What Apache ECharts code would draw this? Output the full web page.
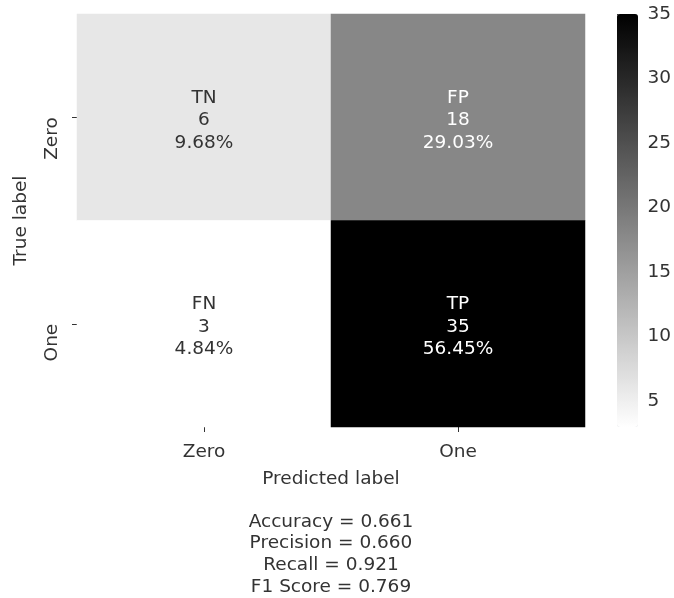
<!DOCTYPE html>
<html>
<head>
<meta charset="utf-8">
<script src="https://cdn.jsdelivr.net/npm/echarts@6/dist/echarts.min.js"></script>
<style>
  html, body { margin: 0; padding: 0; background: #ffffff; }
  #chart { width: 674px; height: 598px; }
</style>
</head>
<body>
<div id="chart"></div>
<script>
// Confusion matrix data
const predictedLabels = ['Zero', 'One'];
const trueLabels = ['Zero', 'One'];
const cellNames = [['TN', 'FP'], ['FN', 'TP']];
const cellCounts = [[6, 18], [3, 35]];
const cellPercents = [['9.68%', '29.03%'], ['4.84%', '56.45%']];
const colorbarTicks = [5, 10, 15, 20, 25, 30, 35];
const colorMin = 3;
const colorMax = 35;
const metricLines = [
  'Accuracy = 0.661',
  'Precision = 0.660',
  'Recall = 0.921',
  'F1 Score = 0.769'
];

const FONT = 'DejaVu Sans';
const FS = 18.5;
const INK = '#333333';

// Build heatmap items: [xIndex, yIndex, count]
const heatData = [];
for (let r = 0; r < trueLabels.length; r++) {
  for (let c = 0; c < predictedLabels.length; c++) {
    const v = cellCounts[r][c];
    const t = (v - colorMin) / (colorMax - colorMin);
    heatData.push({
      value: [c, r, v],
      name: cellNames[r][c],
      pct: cellPercents[r][c],
      label: { color: t > 0.4 ? '#ffffff' : INK }
    });
  }
}

const chart = echarts.init(document.getElementById('chart'), null, { renderer: 'canvas' });

chart.setOption({
  animation: false,
  backgroundColor: '#ffffff',
  textStyle: { fontFamily: FONT },
  grid: [
    { left: 77, top: 14, width: 508, height: 413 },
    { left: 617, top: 14, width: 21, height: 413 }
  ],
  xAxis: [
    {
      gridIndex: 0,
      type: 'category',
      data: predictedLabels,
      name: 'Predicted label',
      nameLocation: 'middle',
      nameGap: 43,
      nameTextStyle: { fontFamily: FONT, fontSize: FS, color: INK },
      axisLine: { show: false },
      axisTick: { show: true, alignWithLabel: true, length: 5, lineStyle: { color: INK, width: 1 } },
      axisLabel: { fontFamily: FONT, fontSize: FS, color: INK, margin: 16 },
      splitLine: { show: false }
    },
    {
      gridIndex: 1,
      type: 'value',
      show: false,
      min: 0,
      max: 1
    }
  ],
  yAxis: [
    {
      gridIndex: 0,
      type: 'category',
      data: trueLabels,
      inverse: true,
      name: 'True label',
      nameLocation: 'middle',
      nameGap: 46,
      nameRotate: 90,
      nameTextStyle: { fontFamily: FONT, fontSize: FS, color: INK },
      axisLine: { show: false },
      axisTick: { show: true, alignWithLabel: true, length: 5, lineStyle: { color: INK, width: 1 } },
      axisLabel: {
        fontFamily: FONT, fontSize: FS, color: INK,
        rotate: 90, margin: 15, align: 'right', verticalAlign: 'bottom'
      },
      splitLine: { show: false }
    },
    {
      gridIndex: 1,
      type: 'value',
      position: 'right',
      min: colorMin,
      max: colorMax,
      axisLine: { show: false },
      splitLine: { show: false },
      axisTick: {
        show: true, length: 5, customValues: colorbarTicks,
        lineStyle: { color: INK, width: 1 }
      },
      axisLabel: {
        fontFamily: FONT, fontSize: FS, color: INK, margin: 16,
        customValues: colorbarTicks
      }
    }
  ],
  visualMap: {
    type: 'continuous',
    seriesIndex: 0,
    min: colorMin,
    max: colorMax,
    calculable: false,
    realtime: false,
    orient: 'vertical',
    left: 617,
    top: 14,
    itemWidth: 21,
    itemHeight: 413,
    padding: 0,
    text: null,
    showLabel: false,
    inRange: { color: ['#ffffff', '#000000'] }
  },
  graphic: [
    {
      type: 'text',
      style: {
        text: metricLines.join('\n'),
        fontFamily: FONT,
        fontSize: FS,
        lineHeight: 21.7,
        fill: INK,
        align: 'center'
      },
      position: [331, 511]
    }
  ],
  series: [
    {
      type: 'heatmap',
      xAxisIndex: 0,
      yAxisIndex: 0,
      data: heatData,
      itemStyle: { borderWidth: 0 },
      emphasis: { disabled: true },
      label: {
        show: true,
        fontFamily: FONT,
        fontSize: FS,
        lineHeight: 22.5,
        align: 'center',
        offset: [0, 3],
        formatter: function (p) {
          return p.data.name + '\n' + p.data.value[2] + '\n' + p.data.pct;
        }
      }
    }
  ]
});
</script>
</body>
</html>
